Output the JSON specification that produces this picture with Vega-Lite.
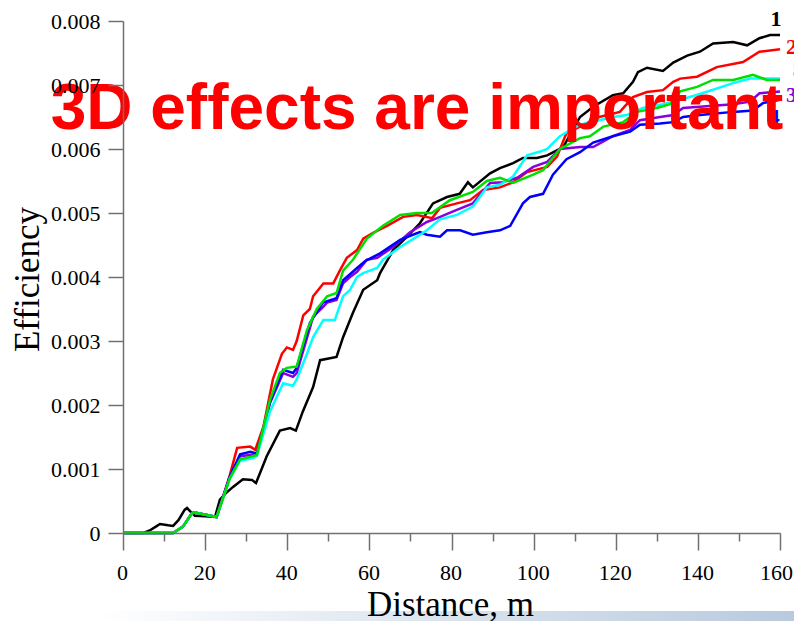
{
  "$schema": "https://vega.github.io/schema/vega-lite/v6.json",
  "width": 657,
  "height": 512,
  "autosize": {"type": "none"},
  "padding": {"left": 123, "top": 21, "right": 14, "bottom": 88},
  "background": "white",
  "config": {"view": {"stroke": null}},
  "datasets": {
    "lines": [
      {"s":"1","d":0,"e":0},{"s":"1","d":5,"e":0},{"s":"1","d":6.5,"e":0.00004},{"s":"1","d":8,"e":0.0001},{"s":"1","d":9,"e":0.00014},{"s":"1","d":11,"e":0.00012},{"s":"1","d":12.2,"e":0.00011},{"s":"1","d":13.5,"e":0.0002},{"s":"1","d":15,"e":0.00036},{"s":"1","d":15.6,"e":0.00039},{"s":"1","d":16.5,"e":0.00033},{"s":"1","d":17.5,"e":0.00027},{"s":"1","d":20,"e":0.00026},{"s":"1","d":22.4,"e":0.00025},{"s":"1","d":23.6,"e":0.00052},{"s":"1","d":25,"e":0.00062},{"s":"1","d":26.8,"e":0.00072},{"s":"1","d":29.2,"e":0.00084},{"s":"1","d":31.4,"e":0.00083},{"s":"1","d":32.4,"e":0.00078},{"s":"1","d":35,"e":0.0012},{"s":"1","d":38.2,"e":0.0016},{"s":"1","d":40.7,"e":0.00164},{"s":"1","d":42.1,"e":0.0016},{"s":"1","d":43.8,"e":0.0019},{"s":"1","d":46.3,"e":0.00228},{"s":"1","d":48,"e":0.0027},{"s":"1","d":50.4,"e":0.00273},{"s":"1","d":52,"e":0.00275},{"s":"1","d":53.6,"e":0.00306},{"s":"1","d":56,"e":0.00344},{"s":"1","d":58.5,"e":0.0038},{"s":"1","d":61.9,"e":0.00395},{"s":"1","d":62.6,"e":0.00406},{"s":"1","d":65.8,"e":0.00442},{"s":"1","d":69.2,"e":0.00463},{"s":"1","d":72.3,"e":0.00484},{"s":"1","d":75.5,"e":0.00515},{"s":"1","d":78.9,"e":0.00525},{"s":"1","d":82,"e":0.0053},{"s":"1","d":84,"e":0.00548},{"s":"1","d":85.2,"e":0.0054},{"s":"1","d":89.4,"e":0.00562},{"s":"1","d":91.8,"e":0.0057},{"s":"1","d":95,"e":0.00578},{"s":"1","d":97.4,"e":0.00586},{"s":"1","d":100.8,"e":0.00586},{"s":"1","d":103.3,"e":0.0059},{"s":"1","d":107.2,"e":0.00603},{"s":"1","d":111.3,"e":0.0065},{"s":"1","d":114.5,"e":0.00666},{"s":"1","d":119.3,"e":0.00684},{"s":"1","d":121.8,"e":0.00687},{"s":"1","d":124.2,"e":0.00705},{"s":"1","d":125.4,"e":0.0072},{"s":"1","d":127.6,"e":0.00727},{"s":"1","d":131.5,"e":0.00722},{"s":"1","d":134,"e":0.00735},{"s":"1","d":137.4,"e":0.00746},{"s":"1","d":140.5,"e":0.00752},{"s":"1","d":143.7,"e":0.00765},{"s":"1","d":148.6,"e":0.00767},{"s":"1","d":152,"e":0.00762},{"s":"1","d":155,"e":0.00773},{"s":"1","d":157.6,"e":0.00778},{"s":"1","d":160,"e":0.00778},

      {"s":"2","d":0,"e":0},{"s":"2","d":12.2,"e":0},{"s":"2","d":14.6,"e":0.0001},{"s":"2","d":16.8,"e":0.00031},{"s":"2","d":17.5,"e":0.00032},{"s":"2","d":20.4,"e":0.00028},{"s":"2","d":22.8,"e":0.00025},{"s":"2","d":26,"e":0.0009},{"s":"2","d":27.8,"e":0.00133},{"s":"2","d":31,"e":0.00135},{"s":"2","d":32.2,"e":0.0013},{"s":"2","d":34.2,"e":0.00166},{"s":"2","d":36.5,"e":0.0024},{"s":"2","d":38.7,"e":0.0028},{"s":"2","d":39.9,"e":0.0029},{"s":"2","d":41.4,"e":0.00286},{"s":"2","d":42.3,"e":0.003},{"s":"2","d":43.9,"e":0.0034},{"s":"2","d":45.5,"e":0.0035},{"s":"2","d":46.3,"e":0.0037},{"s":"2","d":48.8,"e":0.0039},{"s":"2","d":51.2,"e":0.0039},{"s":"2","d":52.8,"e":0.0041},{"s":"2","d":54.5,"e":0.0043},{"s":"2","d":57,"e":0.00442},{"s":"2","d":58.5,"e":0.0046},{"s":"2","d":60.9,"e":0.00469},{"s":"2","d":64.3,"e":0.0048},{"s":"2","d":68.2,"e":0.00494},{"s":"2","d":71.6,"e":0.00497},{"s":"2","d":75.3,"e":0.00492},{"s":"2","d":77.2,"e":0.00508},{"s":"2","d":81.3,"e":0.00515},{"s":"2","d":84.5,"e":0.0052},{"s":"2","d":87.7,"e":0.00536},{"s":"2","d":91.8,"e":0.0054},{"s":"2","d":95,"e":0.00548},{"s":"2","d":98.4,"e":0.00564},{"s":"2","d":103.3,"e":0.00572},{"s":"2","d":105.7,"e":0.00588},{"s":"2","d":108,"e":0.00625},{"s":"2","d":111.3,"e":0.00635},{"s":"2","d":116,"e":0.0065},{"s":"2","d":121,"e":0.00658},{"s":"2","d":124.2,"e":0.00681},{"s":"2","d":127.6,"e":0.00689},{"s":"2","d":131.5,"e":0.00692},{"s":"2","d":134,"e":0.00705},{"s":"2","d":135.7,"e":0.0071},{"s":"2","d":139.8,"e":0.00713},{"s":"2","d":144.6,"e":0.00728},{"s":"2","d":151,"e":0.00736},{"s":"2","d":155,"e":0.00752},{"s":"2","d":160,"e":0.00756},

      {"s":"3","d":0,"e":0},{"s":"3","d":12.2,"e":0},{"s":"3","d":14.6,"e":0.0001},{"s":"3","d":16.8,"e":0.00031},{"s":"3","d":17.5,"e":0.00032},{"s":"3","d":20.4,"e":0.00028},{"s":"3","d":22.8,"e":0.00025},{"s":"3","d":26,"e":0.00087},{"s":"3","d":28.5,"e":0.0012},{"s":"3","d":31,"e":0.00122},{"s":"3","d":32.6,"e":0.00123},{"s":"3","d":35.8,"e":0.00203},{"s":"3","d":39,"e":0.0025},{"s":"3","d":41.4,"e":0.00244},{"s":"3","d":42.3,"e":0.0025},{"s":"3","d":45.5,"e":0.0032},{"s":"3","d":46.3,"e":0.00338},{"s":"3","d":48.7,"e":0.00353},{"s":"3","d":49.7,"e":0.0036},{"s":"3","d":52,"e":0.00364},{"s":"3","d":53.6,"e":0.0039},{"s":"3","d":55.3,"e":0.004},{"s":"3","d":57,"e":0.00408},{"s":"3","d":59.4,"e":0.00427},{"s":"3","d":61.9,"e":0.0043},{"s":"3","d":65.8,"e":0.00447},{"s":"3","d":69.9,"e":0.0047},{"s":"3","d":74,"e":0.00486},{"s":"3","d":76.5,"e":0.00492},{"s":"3","d":81.3,"e":0.00505},{"s":"3","d":85.2,"e":0.00515},{"s":"3","d":89.4,"e":0.00547},{"s":"3","d":92.5,"e":0.00548},{"s":"3","d":96,"e":0.00555},{"s":"3","d":99.9,"e":0.00572},{"s":"3","d":103.3,"e":0.0058},{"s":"3","d":106.4,"e":0.006},{"s":"3","d":111.3,"e":0.00603},{"s":"3","d":114.5,"e":0.00603},{"s":"3","d":119.3,"e":0.0062},{"s":"3","d":123.5,"e":0.0063},{"s":"3","d":125.9,"e":0.00645},{"s":"3","d":130.8,"e":0.0065},{"s":"3","d":134,"e":0.00653},{"s":"3","d":136.4,"e":0.00664},{"s":"3","d":140.5,"e":0.00666},{"s":"3","d":148.6,"e":0.0067},{"s":"3","d":152.7,"e":0.00674},{"s":"3","d":155,"e":0.00687},{"s":"3","d":160,"e":0.0069},

      {"s":"4","d":0,"e":0},{"s":"4","d":12.2,"e":0},{"s":"4","d":14.6,"e":0.0001},{"s":"4","d":16.8,"e":0.00031},{"s":"4","d":17.5,"e":0.00032},{"s":"4","d":20.4,"e":0.00028},{"s":"4","d":22.8,"e":0.00025},{"s":"4","d":26,"e":0.00088},{"s":"4","d":28.5,"e":0.00123},{"s":"4","d":31,"e":0.00127},{"s":"4","d":32.6,"e":0.00124},{"s":"4","d":35.8,"e":0.00205},{"s":"4","d":39,"e":0.00255},{"s":"4","d":41.4,"e":0.0025},{"s":"4","d":42.3,"e":0.00258},{"s":"4","d":45.5,"e":0.00328},{"s":"4","d":48.7,"e":0.0036},{"s":"4","d":52,"e":0.00367},{"s":"4","d":53.6,"e":0.00395},{"s":"4","d":57,"e":0.00414},{"s":"4","d":59,"e":0.00425},{"s":"4","d":62.6,"e":0.00437},{"s":"4","d":67.5,"e":0.00458},{"s":"4","d":70.6,"e":0.00466},{"s":"4","d":72.3,"e":0.0047},{"s":"4","d":74,"e":0.00466},{"s":"4","d":77.2,"e":0.00463},{"s":"4","d":78.9,"e":0.00473},{"s":"4","d":82.1,"e":0.00473},{"s":"4","d":85.2,"e":0.00466},{"s":"4","d":88.6,"e":0.0047},{"s":"4","d":91.8,"e":0.00473},{"s":"4","d":94.3,"e":0.0048},{"s":"4","d":97.4,"e":0.00515},{"s":"4","d":99.1,"e":0.00525},{"s":"4","d":102.3,"e":0.0053},{"s":"4","d":104.7,"e":0.0056},{"s":"4","d":108,"e":0.00584},{"s":"4","d":111.3,"e":0.00595},{"s":"4","d":114.5,"e":0.0061},{"s":"4","d":119.3,"e":0.0062},{"s":"4","d":123.5,"e":0.00627},{"s":"4","d":125.9,"e":0.00638},{"s":"4","d":130.8,"e":0.0064},{"s":"4","d":134,"e":0.00642},{"s":"4","d":136.4,"e":0.0065},{"s":"4","d":140.5,"e":0.00653},{"s":"4","d":148.6,"e":0.00658},{"s":"4","d":153.4,"e":0.0066},{"s":"4","d":155.9,"e":0.00672},{"s":"4","d":160,"e":0.00677},

      {"s":"6","d":0,"e":0},{"s":"6","d":12.2,"e":0},{"s":"6","d":14.6,"e":0.0001},{"s":"6","d":16.8,"e":0.00031},{"s":"6","d":17.5,"e":0.00032},{"s":"6","d":20.4,"e":0.00028},{"s":"6","d":22.8,"e":0.00025},{"s":"6","d":26,"e":0.00085},{"s":"6","d":28.5,"e":0.00113},{"s":"6","d":31.7,"e":0.00117},{"s":"6","d":32.6,"e":0.0012},{"s":"6","d":35.8,"e":0.0019},{"s":"6","d":39,"e":0.00234},{"s":"6","d":41.4,"e":0.0023},{"s":"6","d":42.3,"e":0.0024},{"s":"6","d":44.8,"e":0.0028},{"s":"6","d":46.3,"e":0.00306},{"s":"6","d":48.8,"e":0.00333},{"s":"6","d":51.6,"e":0.00333},{"s":"6","d":53.6,"e":0.0037},{"s":"6","d":55.3,"e":0.0038},{"s":"6","d":57,"e":0.004},{"s":"6","d":58.5,"e":0.00406},{"s":"6","d":61.9,"e":0.00414},{"s":"6","d":63.3,"e":0.00427},{"s":"6","d":67.5,"e":0.00447},{"s":"6","d":71.6,"e":0.00463},{"s":"6","d":74,"e":0.00473},{"s":"6","d":77.2,"e":0.0049},{"s":"6","d":81.3,"e":0.00497},{"s":"6","d":85.2,"e":0.0051},{"s":"6","d":88.6,"e":0.0054},{"s":"6","d":91.8,"e":0.00544},{"s":"6","d":95,"e":0.00557},{"s":"6","d":98.4,"e":0.0059},{"s":"6","d":101.6,"e":0.00596},{"s":"6","d":103.3,"e":0.006},{"s":"6","d":106.4,"e":0.0062},{"s":"6","d":111.3,"e":0.00638},{"s":"6","d":119.3,"e":0.0065},{"s":"6","d":122.7,"e":0.00653},{"s":"6","d":126.6,"e":0.00664},{"s":"6","d":131.5,"e":0.0067},{"s":"6","d":137.4,"e":0.0068},{"s":"6","d":140.5,"e":0.00686},{"s":"6","d":148.6,"e":0.00703},{"s":"6","d":152.7,"e":0.0071},{"s":"6","d":160,"e":0.0071},

      {"s":"5","d":0,"e":0},{"s":"5","d":12.2,"e":0},{"s":"5","d":14.6,"e":0.0001},{"s":"5","d":16.8,"e":0.00031},{"s":"5","d":17.5,"e":0.00032},{"s":"5","d":20.4,"e":0.00028},{"s":"5","d":22.8,"e":0.00025},{"s":"5","d":26,"e":0.00085},{"s":"5","d":28.5,"e":0.00115},{"s":"5","d":31,"e":0.00119},{"s":"5","d":32.6,"e":0.00122},{"s":"5","d":35.8,"e":0.00208},{"s":"5","d":38.2,"e":0.0025},{"s":"5","d":39.9,"e":0.00258},{"s":"5","d":42.3,"e":0.0026},{"s":"5","d":44.8,"e":0.00317},{"s":"5","d":47.2,"e":0.0035},{"s":"5","d":49.7,"e":0.0037},{"s":"5","d":52,"e":0.00375},{"s":"5","d":53.6,"e":0.0041},{"s":"5","d":56,"e":0.00427},{"s":"5","d":59.4,"e":0.0046},{"s":"5","d":63.3,"e":0.0048},{"s":"5","d":67.5,"e":0.00497},{"s":"5","d":71.6,"e":0.005},{"s":"5","d":75.2,"e":0.005},{"s":"5","d":79.6,"e":0.0052},{"s":"5","d":85.2,"e":0.00533},{"s":"5","d":88.6,"e":0.0055},{"s":"5","d":91.8,"e":0.00555},{"s":"5","d":95,"e":0.00547},{"s":"5","d":99.9,"e":0.0056},{"s":"5","d":102.3,"e":0.00567},{"s":"5","d":106.4,"e":0.006},{"s":"5","d":111.3,"e":0.00617},{"s":"5","d":113.7,"e":0.0062},{"s":"5","d":117,"e":0.00635},{"s":"5","d":121.8,"e":0.00642},{"s":"5","d":125.2,"e":0.00658},{"s":"5","d":130,"e":0.00664},{"s":"5","d":133.2,"e":0.0067},{"s":"5","d":135.7,"e":0.0069},{"s":"5","d":139.8,"e":0.00697},{"s":"5","d":143.7,"e":0.00708},{"s":"5","d":148.6,"e":0.00708},{"s":"5","d":153.4,"e":0.00716},{"s":"5","d":156.8,"e":0.00708},{"s":"5","d":160,"e":0.00708}
    ],
    "labels": [
      {"s":"1","t":"1","d":159.0,"e":0.00803},
      {"s":"2","t":"2","d":162.8,"e":0.00759},
      {"s":"5","t":"5","d":164.4,"e":0.00725},
      {"s":"3","t":"3","d":162.8,"e":0.00684},
      {"s":"4","t":"4","d":158.6,"e":0.0065}
    ],
    "note": [{"t":"3D effects are important","d":71.6,"e":0.00632}],
    "bar": [{"d":-6,"d2":175,"e":-0.00122,"e2":-0.0016}]
  },
  "layer": [
    {
      "data": {"name": "bar"},
      "mark": {"type": "rect", "clip": false, "color": {"gradient": "linear", "x1": 0, "x2": 1, "y1": 0, "y2": 0, "stops": [{"offset": 0, "color": "#ffffff"}, {"offset": 0.4, "color": "#dfe7f0"}, {"offset": 1, "color": "#b4c6dc"}]}},
      "encoding": {
        "x": {"field": "d", "type": "quantitative"},
        "x2": {"field": "d2"},
        "y": {"field": "e", "type": "quantitative"},
        "y2": {"field": "e2"}
      }
    },
    {
      "data": {"name": "lines"},
      "mark": {"type": "line", "strokeWidth": 2.5, "interpolate": "linear"},
      "encoding": {
        "x": {
          "field": "d", "type": "quantitative",
          "scale": {"domain": [0, 160], "nice": false, "zero": false},
          "axis": {
            "values": [0,10,20,30,40,50,60,70,80,90,100,110,120,130,140,150,160],
            "labelExpr": "datum.value % 20 === 0 ? datum.label : ''",
            "tickSize": {"condition": {"test": "datum.value % 20 === 0", "value": 17}, "value": 8},
            "labelOffset": {"condition": {"test": "datum.value === 160", "value": -4}, "value": -1},
            "grid": false,
            "zindex": 2,
            "domainColor": "#707070", "domainWidth": 1.5,
            "tickColor": "#707070", "tickWidth": 1.5,
            "labelFont": "Liberation Serif", "labelFontSize": 22, "labelColor": "#000000",
            "labelPadding": 12, "labelFlush": false, "labelOverlap": false,
            "title": "Distance, m",
            "titleFont": "Liberation Serif", "titleFontSize": 35, "titleFontWeight": "normal", "titleColor": "#000000",
            "titleBaseline": "alphabetic", "titleY": 82, "titleX": 327
          }
        },
        "y": {
          "field": "e", "type": "quantitative",
          "scale": {"domain": [0, 0.008], "nice": false},
          "axis": {
            "values": [0,0.0005,0.001,0.0015,0.002,0.0025,0.003,0.0035,0.004,0.0045,0.005,0.0055,0.006,0.0065,0.007,0.0075,0.008],
            "format": ".3~f",
            "labelExpr": "round(datum.value*2000) % 2 === 0 ? datum.label : ''",
            "tickSize": {"condition": {"test": "round(datum.value*2000) % 2 === 0", "value": 15}, "value": 7},
            "grid": false,
            "zindex": 2,
            "domainColor": "#707070", "domainWidth": 1.5,
            "tickColor": "#707070", "tickWidth": 1.5,
            "labelFont": "Liberation Serif", "labelFontSize": 22, "labelColor": "#000000",
            "labelPadding": 8, "labelFlush": false, "labelOverlap": false,
            "title": "Efficiency",
            "titleFont": "Liberation Serif", "titleFontSize": 35, "titleFontWeight": "normal", "titleColor": "#000000",
            "titleBaseline": "alphabetic", "titleAngle": -90, "titleX": -85, "titleY": 258, "titleAlign": "center"
          }
        },
        "color": {
          "field": "s", "type": "nominal",
          "scale": {"domain": ["1","2","3","4","5","6"], "range": ["#000000","#ff0000","#8800dd","#0000ff","#00e000","#00ffff"]},
          "legend": null
        },
        "order": {"field": "d", "type": "quantitative"}
      }
    },
    {
      "data": {"name": "labels"},
      "mark": {"type": "text", "font": "Liberation Serif", "fontSize": 22, "fontWeight": "bold", "align": "center", "baseline": "middle", "clip": false},
      "encoding": {
        "x": {"field": "d", "type": "quantitative"},
        "y": {"field": "e", "type": "quantitative"},
        "text": {"field": "t"},
        "color": {"field": "s", "type": "nominal", "legend": null}
      }
    },
    {
      "data": {"name": "note"},
      "mark": {"type": "text", "font": "Liberation Sans", "fontSize": 64, "fontWeight": "bold", "color": "#ff0000", "align": "center", "baseline": "alphabetic", "clip": false},
      "encoding": {
        "x": {"field": "d", "type": "quantitative"},
        "y": {"field": "e", "type": "quantitative"},
        "text": {"field": "t"}
      }
    }
  ]
}
